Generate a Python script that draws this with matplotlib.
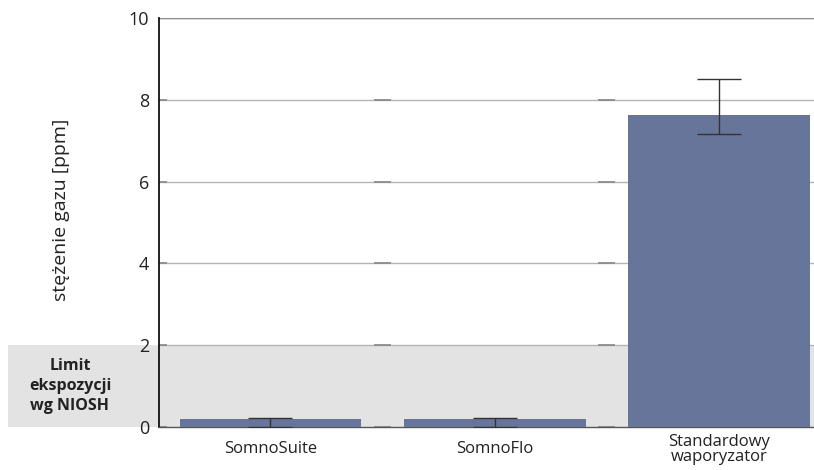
import numpy as np
import matplotlib.pyplot as plt
from matplotlib.transforms import blended_transform_factory
from matplotlib.patches import Rectangle

categories = ['SomnoSuite', 'SomnoFlo', 'Standardowy\nwaporyzator']
values = [0.19, 0.19, 7.62]
err_low = [0.19, 0.19, 0.46]
err_high = [0.04, 0.04, 0.90]
y_ticks = [0, 2, 4, 6, 8, 10]
limit_niosh = 2
limit_label = 'Limit\nekspozycji\nwg NIOSH'
y_label = 'stężenie gazu [ppm]'

plt.rcParams['font.family'] = ['Open Sans', 'DejaVu Sans']

fig = plt.figure(figsize=(8.14, 4.70), dpi=100)
ax = fig.add_axes([159 / 814, 1 - 427 / 470, 1 - 159 / 814, (427 - 18) / 470])

x = np.arange(len(categories))

# NIOSH band, reaching out past the y axis
trans = blended_transform_factory(fig.transFigure, ax.transData)
band = Rectangle((8 / 814, 0), 1 - 8 / 814, limit_niosh, transform=trans,
                 facecolor='#e3e3e3', edgecolor='none', clip_on=False, zorder=0)
fig.add_artist(band)
fig.text(70 / 814, 1.0, limit_label, transform=trans, ha='center', va='center',
         fontsize=11.5, fontweight='bold', color='#222222', linespacing=1.3)

for t in y_ticks[1:]:
    ax.axhline(t, color='#b4b4b4', lw=1, zorder=1)
ax.axhline(10, color='#8c8c8c', lw=1, zorder=1)

# short darker dashes at group boundaries
for t in y_ticks:
    for b in [-0.5, 0.5, 1.5, 2.5]:
        ax.plot([b - 0.038, b + 0.038], [t, t], color='#8c8c8c', lw=1.3,
                zorder=2, solid_capstyle='butt')

ax.bar(x, values, width=0.81, color='#67759a', zorder=3)
ax.errorbar(x, values, yerr=[err_low, err_high], fmt='none', ecolor='#333333',
            elinewidth=1, capsize=16, capthick=1, zorder=4)

ax.set_xlim(-0.497, 2.423)
ax.set_ylim(0, 10)
ax.set_yticks(y_ticks)
ax.set_xticks(x)
ax.set_xticklabels(categories, fontsize=12, color='#222222', linespacing=0.95,
                   va='center')
ax.tick_params(axis='y', length=0, pad=7, labelsize=13, labelcolor='#222222')
ax.tick_params(axis='x', length=0, pad=16)

for s in ['top', 'right']:
    ax.spines[s].set_visible(False)
ax.spines['left'].set_color('#111111')
ax.spines['left'].set_linewidth(1.3)
ax.spines['bottom'].set_color('#555555')
ax.spines['bottom'].set_linewidth(1)

ax.set_ylabel(y_label, fontsize=14, color='#222222', labelpad=0)
ax.yaxis.set_label_coords(-(159 - 70) / 655, 0.53)
ax.set_facecolor('none')

fig.savefig('out.png', dpi=100)
